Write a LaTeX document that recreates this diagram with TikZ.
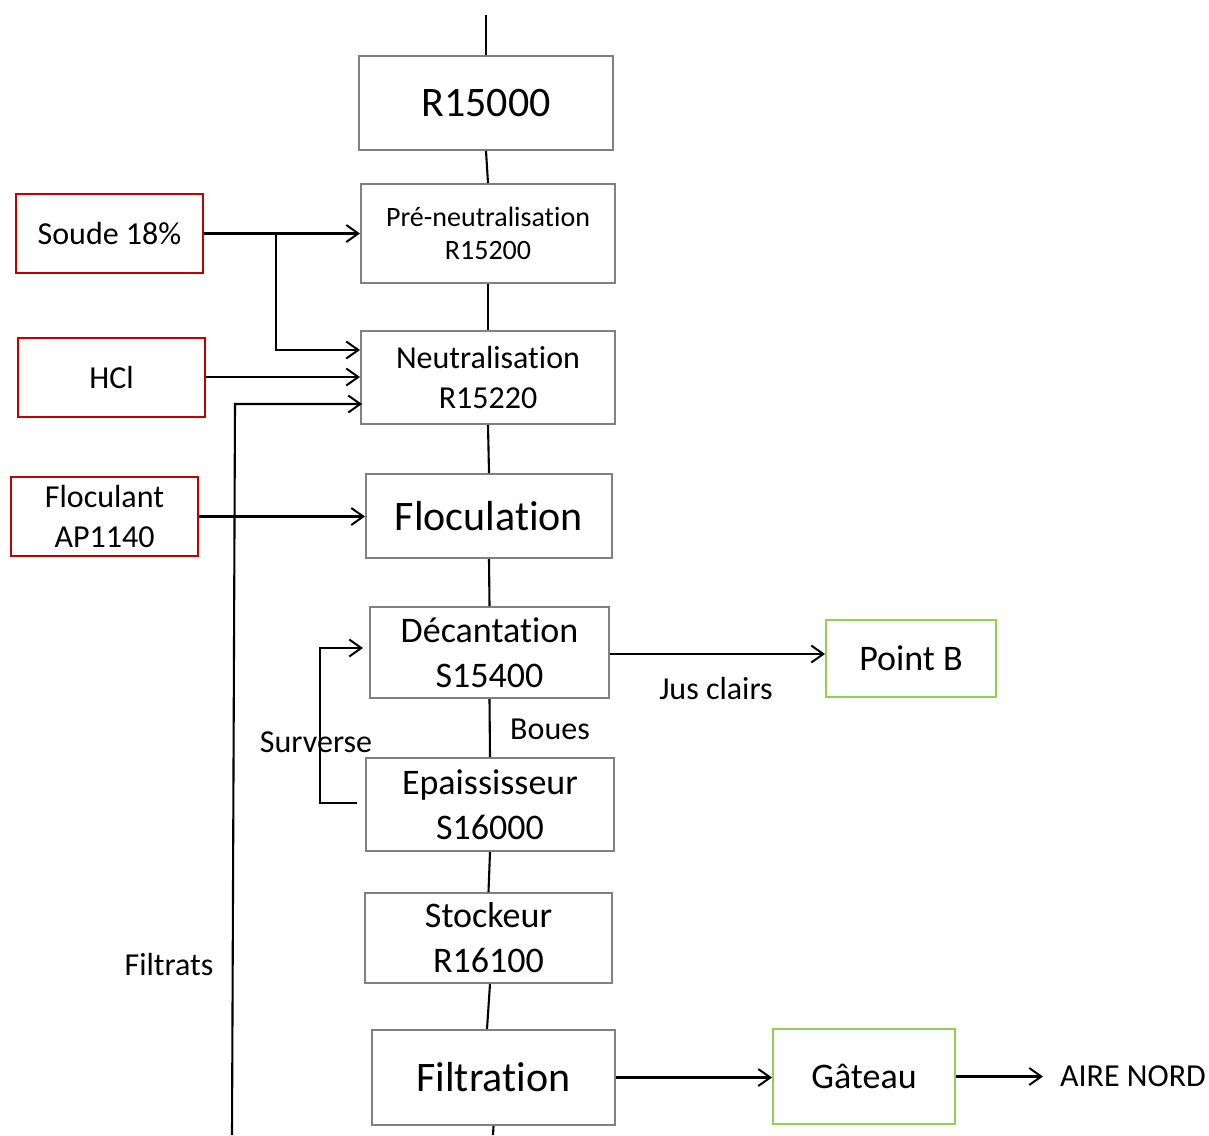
\documentclass[tikz,border=0pt]{standalone}
\usepackage{fontspec}
\setmainfont[Ligatures=NoCommon,RawFeature={-liga;-clig;-calt;-dlig}]{Carlito}
\usetikzlibrary{arrows.meta}
\definecolor{boxgray}{HTML}{808080}
\definecolor{inred}{HTML}{C00000}
\definecolor{outgreen}{HTML}{92D050}
\newcommand\myfs[2]{\fontsize{#1}{#2}\selectfont}
\newcommand\noti{t\kern0pt i}
\begin{document}
\begin{tikzpicture}[x=1pt,y=-1pt,
  procbox/.style={draw=boxgray,line width=2pt,inner sep=0pt,align=center,fill=white},
  inbox/.style={draw=inred,line width=2pt,inner sep=0pt,align=center,minimum width=187pt,minimum height=79pt},
  outbox/.style={draw=outgreen,line width=2pt,inner sep=0pt,align=center},
  lbl/.style={inner sep=0pt,align=center},
  wire/.style={line width=2.1pt,black},
  arr/.style={wire,-{Straight Barb[length=12pt,width=17pt,line width=2pt]}}]
\useasboundingbox (0,0) rectangle (1209,1135);
% process boxes
\node[procbox,minimum width=254pt,minimum height=94pt,font=\myfs{42}{50}] (r15000) at (486,103) {R15000};
\node[procbox,minimum width=254pt,minimum height=99pt,font=\myfs{28}{33}] (pre) at (488,233.5) {Pré-neutralisa\noti on\\R15200};
\node[procbox,minimum width=254pt,minimum height=93pt,font=\myfs{32}{40}] (neut) at (488,377.5) {Neutralisa\noti on\\R15220};
\node[procbox,minimum width=246pt,minimum height=84pt,font=\myfs{42}{50}] (flocu) at (489,516) {Flocula\noti on};
\node[procbox,minimum width=239pt,minimum height=91pt,font=\myfs{36}{45}] (decant) at (489.5,652.5) {Décanta\noti on\\S15400};
\node[procbox,minimum width=248pt,minimum height=93pt,font=\myfs{36}{45}] (epais) at (490,804.5) {Epaississeur\\S16000};
\node[procbox,minimum width=247pt,minimum height=90pt,font=\myfs{36}{45}] (stock) at (488.5,938) {Stockeur\\R16100};
\node[procbox,minimum width=243pt,minimum height=95pt,font=\myfs{42}{50}] (filt) at (493.5,1077.5) {Filtra\noti on};
% inputs
\node[inbox,font=\myfs{32}{40}] (soude) at (109.5,233.5) {Soude 18\%};
\node[inbox,font=\myfs{32}{40}] (hcl) at (111.5,377) {HCl};
\node[inbox,font=\myfs{32}{40}] (flocin) at (104.5,516.5) {Floculant\\AP1140};
% outputs
\node[outbox,minimum width=170pt,minimum height=77pt,font=\myfs{36}{45}] (pointb) at (911,658.5) {Point B};
\node[outbox,minimum width=182pt,minimum height=95pt,font=\myfs{36}{45}] (gateau) at (864,1076.5) {Gâteau};
\node[lbl,font=\myfs{32}{40}] (aire) at (1133,1076) {AIRE NORD};
% labels
\node[lbl,font=\myfs{32}{40}] (boues) at (550,729) {Boues};
\node[lbl,font=\myfs{32}{40}] (jus) at (716,688) {Jus clairs};
\node[lbl,font=\myfs{32}{40}] (filtrats) at (169,964) {Filtrats};
% coordinates
\coordinate (top) at (486,15);
\coordinate (bot) at (493,1135);
\coordinate (b1) at (276,233.5);
\coordinate (b2) at (276,350);
\coordinate (f0) at (232,1135);
\coordinate (f1) at (235,404);
\coordinate (s1) at (320,803);
\coordinate (s2) at (320,648);
\coordinate (a1) at (1043,1076.5);
% main chain
\draw[wire] (top) -- (r15000.north);
\draw[wire] (r15000.south) -- (pre.north);
\draw[wire] (pre.south) -- (neut.north);
\draw[wire] (neut.south) -- (flocu.north);
\draw[wire] (flocu.south) -- (decant.north);
\draw[wire] (decant.south) -- (epais.north);
\draw[wire] (epais.south) -- (stock.north);
\draw[wire] ([xshift=1.5pt]stock.south) -- ([xshift=-6.5pt]filt.north);
\draw[wire] (filt.south) -- (bot);
% inputs
\draw[arr] (soude.east) -- (soude.east -| pre.west);
\draw[arr] (b1) -- (b2) -- (b2 -| neut.west);
\draw[arr] (hcl.east) -- (hcl.east -| neut.west);
\draw[arr] (f0) -- (f1) -- ([xshift=2pt]f1 -| neut.west);
\draw[arr] (flocin.east) -- (flocin.east -| flocu.west);
% surverse
\draw[arr] ([xshift=-8pt]epais.west |- s1) -- (s1) -- (s2) -- ([xshift=-6pt]s2 -| decant.west);
\node[lbl,font=\myfs{32}{40}] (surv) at (316,742) {Surverse};
% outputs
\draw[arr] (decant.east |- pointb.west) ++(0,-4.5) coordinate (j0) -- (j0 -| pointb.west);
\draw[arr] (filt.east) -- (filt.east -| gateau.west);
\draw[arr] (gateau.east) -- (a1);
\end{tikzpicture}
\end{document}
